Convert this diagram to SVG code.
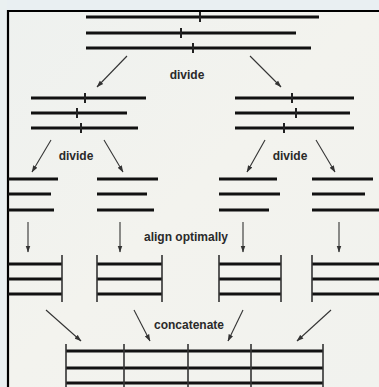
<svg xmlns="http://www.w3.org/2000/svg" width="379" height="387" viewBox="0 0 379 387">
<defs>
<marker id="ah" markerWidth="7" markerHeight="6" refX="6.5" refY="3" orient="auto" markerUnits="userSpaceOnUse">
<path d="M0,0.6 L7,3 L0,5.4 Z" fill="#333"/>
</marker>
<linearGradient id="bg" x1="0" y1="0" x2="1" y2="1">
<stop offset="0" stop-color="#eef1ef"/>
<stop offset="0.5" stop-color="#f3f3ee"/>
<stop offset="1" stop-color="#f1f2ee"/>
</linearGradient>
</defs>
<style>
.h{stroke:#111;stroke-width:3;fill:none}
.t{stroke:#222;stroke-width:2;fill:none}
.v{stroke:#333;stroke-width:1.6;fill:none}
.a{stroke:#333;stroke-width:1.1;fill:none;marker-end:url(#ah)}
.lbl{font-family:"Liberation Sans",Arial,sans-serif;font-weight:bold;font-size:12px;fill:#2a2a2a;text-anchor:middle}
</style>
<rect x="0" y="0" width="379" height="387" fill="url(#bg)"/>
<rect x="0" y="0" width="379" height="10" fill="#e9eff2"/>
<rect x="0" y="0" width="7" height="387" fill="#eaf0f1"/>
<path d="M8,387 V11 H379" stroke="#000" stroke-width="2.2" fill="none"/>

<g id="top">
<path class="h" d="M86,17H319M86,33H296M86,48H311"/>
<path class="t" d="M200,12V22M181,28V38M193,43V53"/>
</g>
<g id="mid-left">
<path class="h" d="M31,98H146M31,113H127M31,128H138"/>
<path class="t" d="M85,93V103M77,108V118M81,123V133"/>
</g>
<g id="mid-right">
<path class="h" d="M235,98H354M235,113H350M235,128H354"/>
<path class="t" d="M292,93V103M296,108V118M284,123V133"/>
</g>
<g id="part-a"><path class="h" d="M8,179H58M8,194H51M8,210H54"/></g>
<g id="part-b"><path class="h" d="M97,179H158M97,194H147M97,210H154"/></g>
<g id="part-c"><path class="h" d="M219,179H277M219,194H280M219,210H269"/></g>
<g id="part-d"><path class="h" d="M312,179H373M312,194H365M312,210H379"/></g>

<g id="aligned-a"><path class="h" d="M8,264H62M8,279H62M8,294H62"/><path class="v" d="M62,255V302"/></g>
<g id="aligned-b"><path class="h" d="M97,264H162M97,279H162M97,294H162"/><path class="v" d="M97,255V302M162,255V302"/></g>
<g id="aligned-c"><path class="h" d="M219,264H281M219,279H281M219,294H281"/><path class="v" d="M219,255V302M281,255V302"/></g>
<g id="aligned-d"><path class="h" d="M312,264H379M312,279H379M312,294H379"/><path class="v" d="M312,255V302"/></g>

<g id="final">
<path class="h" d="M66,351H323M66,368H323M66,383H323"/>
<path class="v" d="M66,344V387M124,344V387M188,344V387M251,344V387M323,344V387"/>
</g>

<g id="connectors">
<path class="a" d="M127,56L97,87"/>
<path class="a" d="M250,56L281,87"/>
<path class="a" d="M51,140L32,172"/>
<path class="a" d="M104,140L123,172"/>
<path class="a" d="M265,140L247,172"/>
<path class="a" d="M316,140L335,172"/>
<path class="a" d="M28,222V252"/>
<path class="a" d="M120,222V252"/>
<path class="a" d="M243,222V252"/>
<path class="a" d="M339,222V252"/>
<path class="a" d="M46,310L81,341"/>
<path class="a" d="M134,310L150,341"/>
<path class="a" d="M243,310L228,341"/>
<path class="a" d="M331,310L297,341"/>
</g>

<g id="labels">
<text class="lbl" x="187" y="79">divide</text>
<text class="lbl" x="76" y="160">divide</text>
<text class="lbl" x="290" y="160">divide</text>
<text class="lbl" x="186" y="241">align optimally</text>
<text class="lbl" x="189" y="329">concatenate</text>
</g>
</svg>
